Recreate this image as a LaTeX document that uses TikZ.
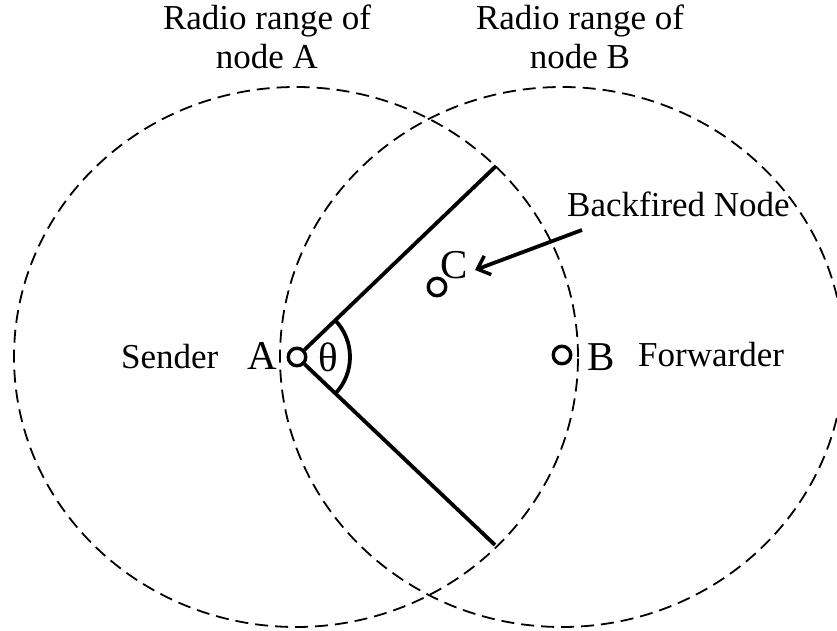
\documentclass[tikz,border=0pt]{standalone}
\usepackage{fontspec}
\setmainfont{Liberation Serif}
\usetikzlibrary{arrows.meta}
\tikzset{
  radiorange/.style={draw, dash pattern=on 13pt off 7pt, line width=1.8pt},
  station/.style={circle, draw, line width=3.4pt, minimum size=17.5pt, inner sep=0pt},
  txt/.style={inner sep=0pt, font=\fontsize{35}{39}\selectfont},
  big/.style={inner sep=0pt, font=\fontsize{41}{44}\selectfont},
  edgeline/.style={line width=3.8pt},
}
\begin{document}
\begin{tikzpicture}[x=1pt,y=1pt]
\useasboundingbox (0,0) rectangle (837,630);
% ranges
\draw[radiorange] (296,273) ellipse [x radius=282, y radius=270];
\draw[radiorange] (562,273) ellipse [x radius=282, y radius=270];
% stations
\node[station] (A) at (297,273) {};
\node[station] (B) at (562,275) {};
\node[station] (C) at (437,343) {};
% sector
\coordinate (P1) at (496,464);
\coordinate (P2) at (495,85);
\draw[edgeline] (A) -- (P1);
\draw[edgeline] (A) -- (P2);
\draw[edgeline] ([shift={(-44:53)}]297,273) arc [start angle=-44, end angle=44, radius=53];
% labels
\node[txt, align=center] (LA) at (267,593) {Radio range of\\node A};
\node[txt, align=center] (LB) at (580,593) {Radio range of\\node B};
\node[txt, anchor=base west] (bf) at (567,413) {Backfired Node};
\node[txt, anchor=base west] (snd) at (121,262) {Sender};
\node[txt, anchor=base west] (fwd) at (638,264) {Forwarder};
\node[big, anchor=base west] (la) at (247,261) {A};
\node[big, anchor=base west] (lb) at (587,260) {B};
\node[big, anchor=base west] (lc) at (440,352) {C};
\node[big] (th) at (328,273) {θ};
% arrow
\coordinate (arrS) at (582,400);
\coordinate (arrE) at (475,360);
\draw[edgeline, -{Straight Barb[length=11pt,width=20pt,line width=3.5pt]}] (arrS) -- (arrE);
\end{tikzpicture}
\end{document}
